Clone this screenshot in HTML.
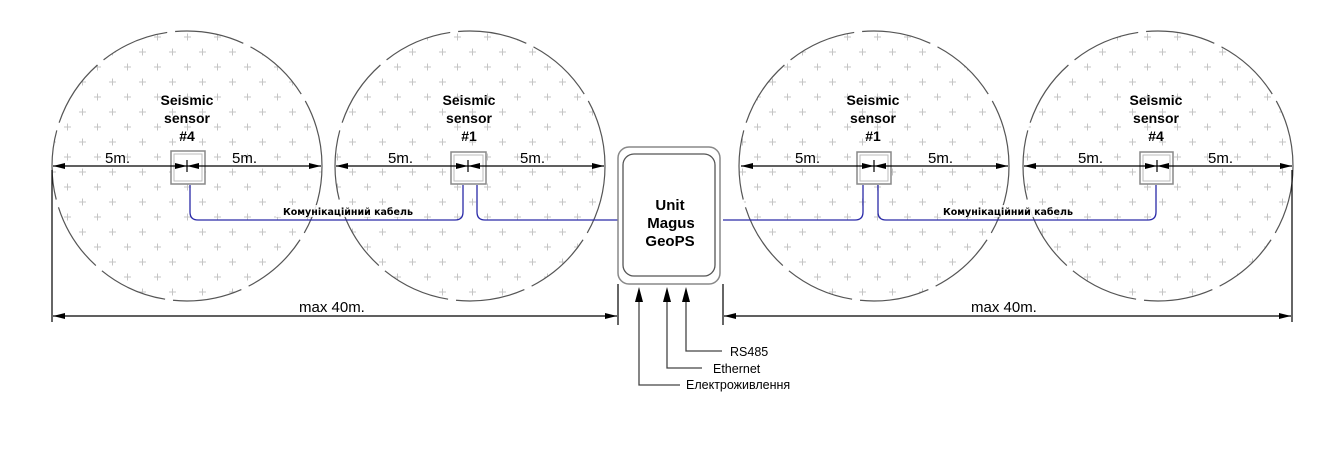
<!DOCTYPE html>
<html><head><meta charset="utf-8"><style>
html,body{margin:0;padding:0;background:#fff;}
svg{display:block;}
text{font-family:"Liberation Sans","DejaVu Sans",sans-serif;}
.b{font-family:"DejaVu Sans","Liberation Sans",sans-serif;font-weight:bold;}
</style></head><body>
<svg width="1341" height="452" viewBox="0 0 1341 452" xmlns="http://www.w3.org/2000/svg">
<defs>
<pattern id="cr" x="0" y="0" width="30" height="30" patternUnits="userSpaceOnUse">
<path d="M4 7h7M7.5 3.5v7M19 22h7M22.5 18.5v7" stroke="#c4c4c4" stroke-width="1" fill="none"/>
</pattern>
<marker id="ar" viewBox="0 0 12 6" refX="12" refY="3" markerWidth="12" markerHeight="6" orient="auto-start-reverse" markerUnits="userSpaceOnUse"><path d="M0 0L12 3L0 6z" fill="#000"/></marker>
</defs>
<g stroke="#555" stroke-width="1.2" stroke-dasharray="70 8" fill="url(#cr)">
<circle cx="187" cy="166" r="135"/>
<circle cx="470" cy="166" r="135"/>
<circle cx="874" cy="166" r="135"/>
<circle cx="1158" cy="166" r="135"/>
</g>
<g stroke="#2a2aa8" stroke-width="1.3" fill="none">
<path d="M190 185V212Q190 220 198 220H455Q463 220 463 212V185"/>
<path d="M477 185V212Q477 220 485 220H618"/>
<path d="M723 220H855Q863 220 863 212V185"/>
<path d="M878 185V212Q878 220 886 220H1148Q1156 220 1156 212V185"/>
</g>
<rect x="276" y="205" width="130" height="12" fill="#fff" opacity="0.85"/>
<rect x="938" y="205" width="124" height="12" fill="#fff" opacity="0.85"/>
<text x="283" y="215" font-size="9.5" class="b">Комунікаційний кабель</text>
<text x="943" y="215" font-size="9.5" class="b">Комунікаційний кабель</text>
<g fill="#fff" stroke="#888" stroke-width="1.5">
<rect x="171" y="151" width="34" height="33"/>
<rect x="451" y="152" width="35" height="32"/>
<rect x="857" y="152" width="34" height="32"/>
<rect x="1140" y="152" width="33" height="32"/>
</g>
<g fill="none" stroke="#bbb" stroke-width="1">
<rect x="174" y="154" width="28" height="27"/>
<rect x="454" y="155" width="29" height="26"/>
<rect x="860" y="155" width="28" height="26"/>
<rect x="1143" y="155" width="27" height="26"/>
</g>
<g stroke="#000" stroke-width="1.2" fill="none">
<line x1="53" y1="166" x2="187" y2="166" marker-start="url(#ar)" marker-end="url(#ar)"/>
<line x1="187" y1="166" x2="321" y2="166" marker-start="url(#ar)" marker-end="url(#ar)"/>
<line x1="336" y1="166" x2="468" y2="166" marker-start="url(#ar)" marker-end="url(#ar)"/>
<line x1="468" y1="166" x2="604" y2="166" marker-start="url(#ar)" marker-end="url(#ar)"/>
<line x1="741" y1="166" x2="874" y2="166" marker-start="url(#ar)" marker-end="url(#ar)"/>
<line x1="874" y1="166" x2="1008" y2="166" marker-start="url(#ar)" marker-end="url(#ar)"/>
<line x1="1024" y1="166" x2="1157" y2="166" marker-start="url(#ar)" marker-end="url(#ar)"/>
<line x1="1157" y1="166" x2="1292" y2="166" marker-start="url(#ar)" marker-end="url(#ar)"/>
<path d="M187 160v12M468 160v12M874 160v12M1157 160v12"/>
<path d="M52 170V322M618 284V325M723 284V325M1292 170V322"/>
<line x1="53" y1="316" x2="617" y2="316" marker-start="url(#ar)" marker-end="url(#ar)"/>
<line x1="724" y1="316" x2="1291" y2="316" marker-start="url(#ar)" marker-end="url(#ar)"/>
</g>
<g font-size="15" fill="#000">
<text x="105" y="163">5m.</text><text x="232" y="163">5m.</text>
<text x="388" y="163">5m.</text><text x="520" y="163">5m.</text>
<text x="795" y="163">5m.</text><text x="928" y="163">5m.</text>
<text x="1078" y="163">5m.</text><text x="1208" y="163">5m.</text>
<text x="299" y="312">max 40m.</text>
<text x="971" y="312">max 40m.</text>
</g>
<g font-size="14" class="b" text-anchor="middle">
<text x="187" y="105">Seismic</text><text x="187" y="123">sensor</text><text x="187" y="141">#4</text>
<text x="469" y="105">Seismic</text><text x="469" y="123">sensor</text><text x="469" y="141">#1</text>
<text x="873" y="105">Seismic</text><text x="873" y="123">sensor</text><text x="873" y="141">#1</text>
<text x="1156" y="105">Seismic</text><text x="1156" y="123">sensor</text><text x="1156" y="141">#4</text>
</g>
<rect x="618" y="147" width="102" height="137" rx="11" fill="#fff" stroke="#888" stroke-width="1.5"/>
<rect x="623" y="154" width="92" height="122" rx="11" fill="none" stroke="#555" stroke-width="1.3"/>
<g font-size="15" class="b" text-anchor="middle">
<text x="670" y="210">Unit</text><text x="671" y="228">Magus</text><text x="670" y="246">GeoPS</text>
</g>
<g stroke="#444" stroke-width="1.3" fill="none">
<path d="M639 300V385H680"/>
<path d="M667 300V368H702"/>
<path d="M686 300V351H722"/>
</g>
<g fill="#000">
<path d="M639 287L643 302H635z"/><path d="M667 287L671 302H663z"/><path d="M686 287L690 302H682z"/>
</g>
<g font-size="12.5" fill="#000" style="font-family:'DejaVu Sans','Liberation Sans',sans-serif">
<text x="730" y="356">RS485</text>
<text x="713" y="373">Ethernet</text>
<text x="686" y="389">Електроживлення</text>
</g>
</svg>
</body></html>
